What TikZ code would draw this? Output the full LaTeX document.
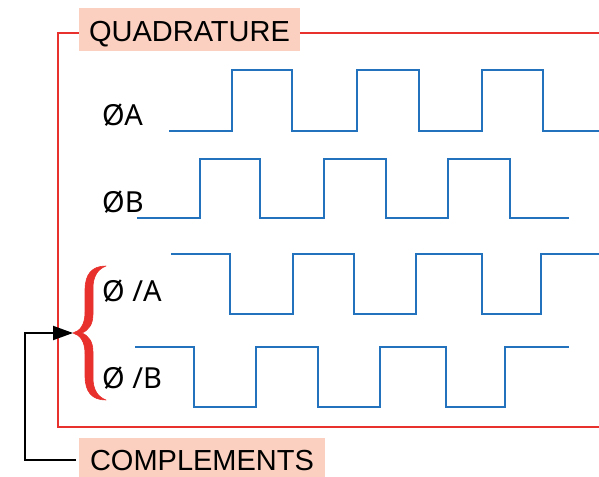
\documentclass[tikz,border=0pt]{standalone}
\usepackage{fontspec}
\setmainfont{Liberation Sans}
\newfontfamily\labfont{Noto Sans}
\usetikzlibrary{arrows.meta}
\definecolor{framered}{RGB}{232,48,44}
\definecolor{wave}{RGB}{34,114,190}
\definecolor{salmon}{RGB}{251,208,192}
\tikzset{
  frame/.style={draw=framered, line width=2pt},
  wavestyle/.style={draw=wave, line width=2.6pt, line join=miter},
  tagbox/.style={fill=salmon, inner sep=0pt, anchor=north west},
  tagtext/.style={font=\fontsize{29}{32}\selectfont, inner sep=0pt, anchor=base},
  sig/.style={font=\labfont\fontsize{29}{32}\selectfont, inner sep=0pt, anchor=base west},
  bracestyle/.style={fill=framered, draw=framered, line width=0.6pt, line join=round},
  pointer/.style={draw=black, line width=2pt, -{Triangle[length=20pt,width=14pt]}}
}
\begin{document}
\begin{tikzpicture}[x=1pt,y=-1pt]
\useasboundingbox (0,0) rectangle (599,476);
% frame
\draw[frame] (599,33) -- (58,33) -- (58,427) -- (599,427);
% tag boxes
\node[tagbox, minimum width=221pt, minimum height=43pt] (quad) at (79,8) {};
\node[tagtext] (quadtxt) at (189.5,42) {QUADRATURE};
\node[tagbox, minimum width=246pt, minimum height=40pt] (comp) at (79,438) {};
\node[tagtext] (comptxt) at (202,470) {COMPLEMENTS};
% signal labels
\node[sig] (la) at (102,125) {ØA};
\node[sig] (lb) at (102,212) {ØB};
\node[sig] (lna) at (102,301) {Ø /A};
\node[sig] (lnb) at (102,388) {Ø /B};
% waveforms
\draw[wavestyle] (169,131) -| (232,70) -| (292,131) -| (357,70) -| (419,131) -| (482,70) -| (543,131) -- (599,131);
\draw[wavestyle] (137,218) -| (200,159) -| (260,218) -| (324,159) -| (386,218) -| (448,159) -| (510,218) -- (569,218);
\draw[wavestyle] (171,254) -| (230,314) -| (293,254) -| (354,314) -| (416,254) -| (482,314) -| (541,254) -- (599,254);
\draw[wavestyle] (135,347) -| (194,407) -| (256,347) -| (318,407) -| (380,347) -| (446,407) -| (505,347) -- (569,347);
% brace
\coordinate (tip) at (73,333);
\path[bracestyle] (106,266)
  .. controls (92,266) and (85,274) .. (85,290) -- (85,312)
  .. controls (85,325) and (80,331) .. (tip)
  .. controls (80,335) and (85,341) .. (85,354) -- (85,376)
  .. controls (85,392) and (92,400) .. (106,400)
  .. controls (98,397) and (93,390) .. (93,378) -- (93,352)
  .. controls (93,342) and (89,336) .. (82,333)
  .. controls (89,330) and (93,324) .. (93,314) -- (93,288)
  .. controls (93,276) and (98,269) .. (106,266) -- cycle;
% pointer
\coordinate (bend1) at (25,460);
\coordinate (bend2) at (25,333);
\draw[pointer] ([xshift=-3pt]comp.west |- 0,460) -- (bend1) -- (bend2) -- (tip);
\end{tikzpicture}
\end{document}
